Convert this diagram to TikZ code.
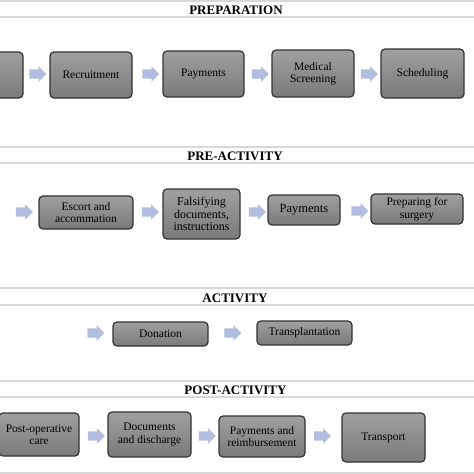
\documentclass[tikz,border=0pt]{standalone}
\usepackage{fontspec}
\setmainfont{Liberation Serif}
\usepackage{tikz}
\usetikzlibrary{shapes.arrows, positioning}
\definecolor{boxtop}{HTML}{A0A0A0}
\definecolor{boxbot}{HTML}{7A7A7A}
\definecolor{boxline}{HTML}{333333}
\definecolor{flowblue}{HTML}{B2BDE0}
\definecolor{bandgray}{HTML}{D8D8D8}

\begin{document}
\begin{tikzpicture}[x=1pt, y=-1pt,
  stage/.style={draw=boxline, line width=1.2pt, rounded corners=4pt, top color=boxtop, bottom color=boxbot, align=center, inner sep=0pt, font=\fontsize{11.5}{12.5}\selectfont},
  flow/.style={single arrow, fill=flowblue, draw=none, inner xsep=0pt, inner ysep=4.5pt, minimum width=15pt, single arrow head extend=3pt, minimum height=17pt},
  band/.style={bandgray, line width=1.6pt},
  phase/.style={font=\fontsize{13}{13}\selectfont\bfseries, inner sep=0pt}]
\clip (0,0) rectangle (474,474);
\fill[white] (0,0) rectangle (474,474);

%Preparation
\draw[band] (0,1) -- (474,1);
\draw[band] (0,17) -- (474,17);
\node (h1) [phase] at (236,10) {PREPARATION};

\node (prep0) at (-18,75) [stage, minimum width=82pt, minimum height=46pt] {};
\node (f1) at (35.5,74) [flow] {};
\node (prep1) at (91,75) [stage, minimum width=82pt, minimum height=46pt] {Recruitment};
\node (f2) at (148.5,74) [flow] {};
\node (prep2) at (203.5,74) [stage, minimum width=81pt, minimum height=46pt] {Payments};
\node (f3) at (258,74) [flow] {};
\node (prep3) at (313,73.5) [stage, minimum width=82pt, minimum height=47pt] {Medical\\Screening};
\node (f4) at (367,74) [flow] {};
\node (prep4) at (422.5,73.5) [stage, minimum width=83pt, minimum height=49pt] {Scheduling};

%Pre-activity
\draw[band] (0,147) -- (474,147);
\draw[band] (0,163) -- (474,163);
\node (h2) [phase] at (235,156) {PRE-ACTIVITY};

\node (f5) at (22,212) [flow] {};
\node (pre1) at (86,212.5) [stage, minimum width=94pt, minimum height=33pt] {Escort and\\accommation};
\node (f6) at (148,212) [flow] {};
\node (pre2) at (201.5,214) [stage, minimum width=77pt, minimum height=50pt, font=\fontsize{12}{12.5}\selectfont] {Falsifying\\documents,\\instructions};
\node (f7) at (255,212) [flow] {};
\node (pre3) at (304,210) [stage, minimum width=72pt, minimum height=30pt, font=\fontsize{12.5}{13}\selectfont] {Payments};
\node (f8) at (357.5,211) [flow] {};
\node (pre4) at (417,209) [stage, minimum width=92pt, minimum height=30pt] {Preparing for\\surgery};

%Activity
\draw[band] (0,288) -- (474,288);
\draw[band] (0,305) -- (474,305);
\node (h3) [phase] at (235,298) {ACTIVITY};

\node (f9) at (93.5,333) [flow] {};
\node (act1) at (160.5,334) [stage, minimum width=95pt, minimum height=24pt] {Donation};
\node (f10) at (230.5,333) [flow] {};
\node (act2) at (304.5,333) [stage, minimum width=95pt, minimum height=24pt] {Transplantation};

%Post-activity
\draw[band] (0,381) -- (474,381);
\draw[band] (0,397) -- (474,397);
\node (h4) [phase] at (235.5,390) {POST-ACTIVITY};

\node (post1) at (39,434.5) [stage, minimum width=80pt, minimum height=43pt] {Post-operative\\care};
\node (f11) at (94,436) [flow] {};
\node (post2) at (149.5,434.5) [stage, minimum width=83pt, minimum height=45pt] {Documents\\and discharge};
\node (f12) at (205,436) [flow] {};
\node (post3) at (262,436.5) [stage, minimum width=86pt, minimum height=41pt] {Payments and\\reimbursement};
\node (f13) at (320,436) [flow] {};
\node (post4) at (383.5,437.5) [stage, minimum width=83pt, minimum height=49pt] {Transport};

\draw[band] (0,473) -- (474,473);
\end{tikzpicture}
\end{document}
